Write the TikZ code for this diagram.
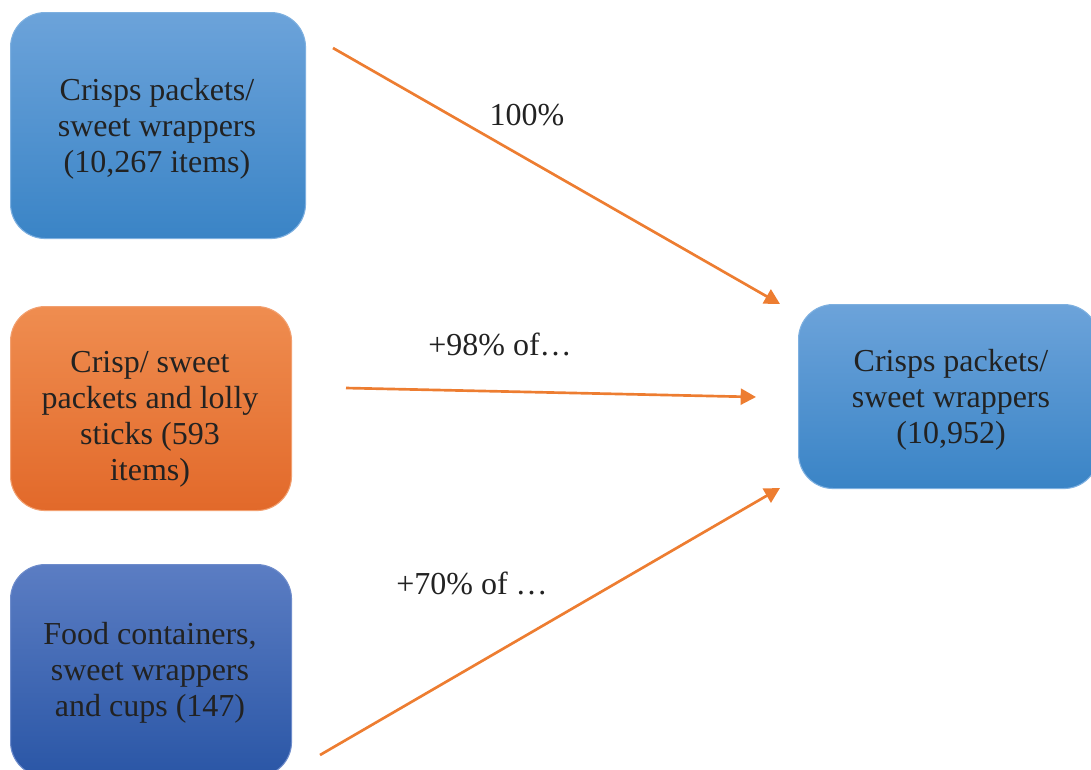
\documentclass[tikz,border=0pt]{standalone}
\usepackage{fontspec}
\setmainfont{Liberation Serif}
\usetikzlibrary{arrows.meta}
\definecolor{bluetop}{HTML}{6CA3DA}
\definecolor{bluebot}{HTML}{3A84C6}
\definecolor{blueedge}{HTML}{7EB0E0}
\definecolor{orgtop}{HTML}{EF8D50}
\definecolor{orgbot}{HTML}{E2692A}
\definecolor{orgedge}{HTML}{F2A070}
\definecolor{dbtop}{HTML}{5B7DC3}
\definecolor{dbbot}{HTML}{2A56A6}
\definecolor{dbedge}{HTML}{6E8CCB}
\definecolor{arr}{HTML}{ED7D31}
\definecolor{txt}{HTML}{222222}
\begin{document}
\begin{tikzpicture}[x=0.75pt,y=-0.75pt,
  boxbase/.style={rounded corners=26pt, line width=0.8pt, inner sep=0pt},
  bluebox/.style={boxbase, draw=blueedge, top color=bluetop, bottom color=bluebot},
  orangebox/.style={boxbase, draw=orgedge, top color=orgtop, bottom color=orgbot},
  darkbox/.style={boxbase, draw=dbedge, top color=dbtop, bottom color=dbbot},
  boxtext/.style={text=txt, align=center, font=\fontsize{24pt}{27pt}\selectfont, inner sep=0pt},
  lbl/.style={text=txt, font=\fontsize{24pt}{27pt}\selectfont, inner sep=0pt},
  flow/.style={draw=arr, line width=2pt, -{Triangle[length=11.5pt,width=12pt]}}
]
\useasboundingbox (0,0) rectangle (1091,769);
\clip (0,0) rectangle (1091,769);

% boxes
\path (10,12) node[bluebox, anchor=north west, minimum width=295*0.75pt, minimum height=226*0.75pt] (b1) {};
\path (10,306) node[orangebox, anchor=north west, minimum width=281*0.75pt, minimum height=204*0.75pt] (b2) {};
\path (10,564) node[darkbox, anchor=north west, minimum width=281*0.75pt, minimum height=212*0.75pt] (b3) {};
\path (798,304) node[bluebox, anchor=north west, minimum width=300*0.75pt, minimum height=184*0.75pt] (b4) {};

% texts
\node[boxtext] (t1) at (157,129) {Crisps packets/\\sweet wrappers\\(10,267 items)};
\node[boxtext] (t2) at (150,419) {Crisp/ sweet\\packets and lolly\\sticks (593\\items)};
\node[boxtext] (t3) at (150,673) {Food containers,\\sweet wrappers\\and cups (147)};
\node[boxtext] (t4) at (951,400) {Crisps packets/\\sweet wrappers\\(10,952)};

% connector ends
\coordinate (s1) at (333,48);
\coordinate (e1) at (780,304);
\coordinate (s2) at (346,388);
\coordinate (e2) at (756,397);
\coordinate (s3) at (320,755);
\coordinate (e3) at (780,488);

\draw[flow] (s1) -- (e1);
\draw[flow] (s2) -- (e2);
\draw[flow] (s3) -- (e3);

% labels
\node[lbl] (l1) at (527,115) {100\%};
\node[lbl] (l2) at (500,344) {+98\% of…};
\node[lbl] (l3) at (472,583) {+70\% of …};
\end{tikzpicture}
\end{document}
